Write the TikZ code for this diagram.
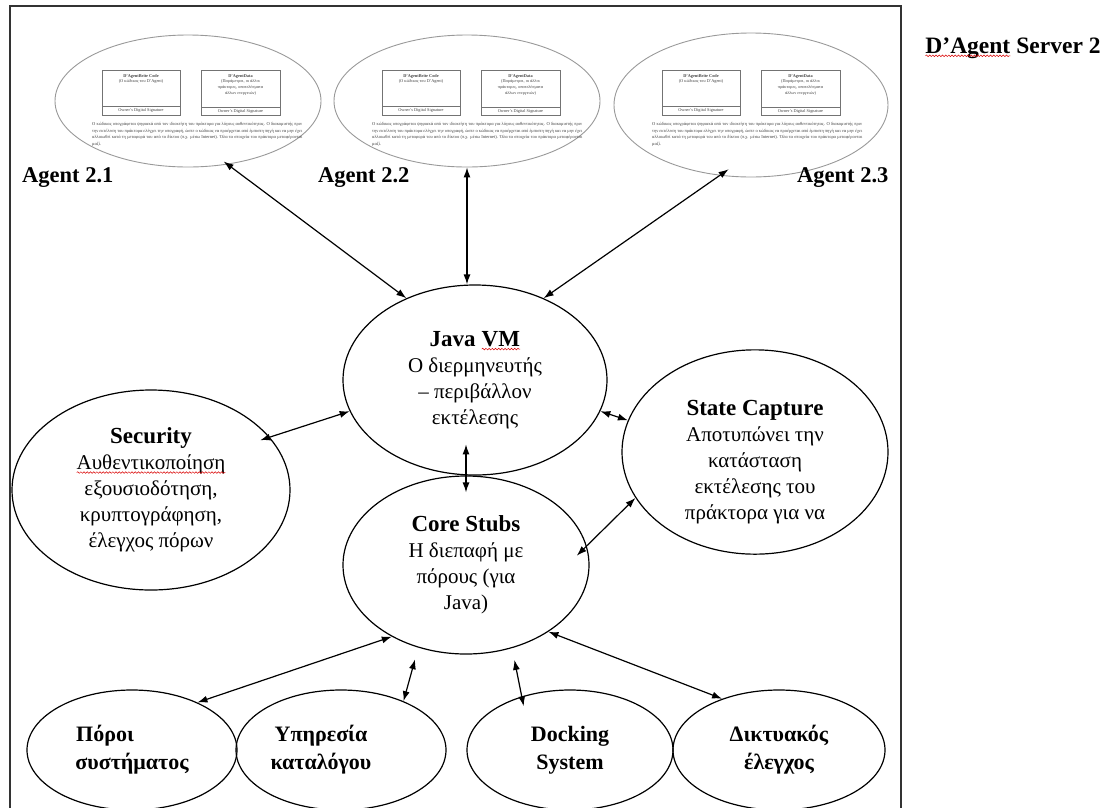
\documentclass[tikz,border=0pt]{standalone}
\usepackage{fontspec}
\setmainfont{Liberation Serif}
\usetikzlibrary{shapes.geometric,arrows.meta,calc,decorations.pathmorphing}

% red wavy spell-check line under a word
\newcommand\squig[1]{\tikz[baseline=(sqw.base),x=1pt,y=1pt]{%
  \node[rectangle,draw=none,fill=none,inner sep=0pt,outer sep=0pt,
        minimum width=0pt,minimum height=0pt,anchor=base,font={},text=black] (sqw) at (0,0) {#1};%
  \draw[draw=red!85!black,line width=0.5pt,decorate,
        decoration={snake,amplitude=0.8pt,segment length=3.2pt}]
    ([yshift=-2.8pt]sqw.base west) -- ([yshift=-2.8pt]sqw.base east);}}

\newcommand\ttl[1]{{\fontsize{23}{26}\selectfont\bfseries #1}}

% contents of one agent: two boxes and a short paragraph
\newcommand\agentcard[2]{%
  \begin{scope}[shift={#2}]
    \draw[cardbox] (0,0) rectangle (78,45);
    \draw[cardbox] (0,36) -- (78,36);
    \draw[cardbox] (99,0) rectangle (178,45);
    \draw[cardbox] (99,37) -- (178,37);
    \node[tinytext,anchor=north] (#1-code) at (39,4)
      {\textbf{D'AgentBrite Code}\\(Ο κώδικας του D'Agent)};
    \node[tinytext] (#1-codesig) at (39,40.5) {Owner's Digital Signature};
    \node[tinytext,anchor=north] (#1-data) at (138.5,4)
      {\textbf{D'AgentData}\\(Παράμετροι, οι άλλοι\\πράκτορες, αποτελέσματα\\άλλων ενεργειών)};
    \node[tinytext] (#1-datasig) at (138.5,41) {Owner's Digital Signature};
    \node[tinypara] (#1-text) at (-10,52)
      {Ο κώδικας υπογράφεται ψηφιακά από τον ιδιοκτήτη του πράκτορα για λόγους αυθεντικότητας. Ο
       διακομιστής πριν την εκτέλεση του πράκτορα ελέγχει την υπογραφή, ώστε ο κώδικας να προέρχεται
       από έμπιστη πηγή και να μην έχει αλλοιωθεί κατά τη μεταφορά του από το δίκτυο (π.χ. μέσω Internet).
       Όλα τα στοιχεία του πράκτορα μεταφέρονται μαζί.};
  \end{scope}}

\begin{document}
\begin{tikzpicture}[x=1pt,y=-1pt,
  bigell/.style={ellipse,draw=black,line width=1.2pt,inner sep=0pt,align=center,
                 font=\fontsize{21}{26}\selectfont},
  botell/.style={ellipse,draw=black,line width=1.2pt,inner sep=0pt,align=center,
                 font=\fontsize{22}{28}\selectfont\bfseries},
  agentell/.style={ellipse,draw=black!40,line width=0.9pt,inner sep=0pt},
  agentlbl/.style={font=\fontsize{22.5}{27}\selectfont\bfseries,anchor=base west,inner sep=0pt},
  cardbox/.style={draw=black!55,line width=0.5pt},
  tinytext/.style={font=\fontsize{4.3}{5.8}\selectfont,text=black!75,align=center,inner sep=0pt},
  tinypara/.style={font=\fontsize{4.5}{6.8}\selectfont,text=black!75,align=justify,
                   text width=210pt,anchor=north west,inner sep=0pt},
  link/.style={{Latex[length=10pt,width=7pt]}-{Latex[length=10pt,width=7pt]},line width=1.2pt},
  frame/.style={draw=black!80,line width=1.4pt}]

\useasboundingbox (0,0) rectangle (1109,807);

% server frame
\draw[frame] (10,830) -- (10,6) -- (901,6) -- (901,830);
\node[font=\fontsize{23.5}{28}\selectfont\bfseries,anchor=base west,inner sep=0pt]
  (server) at (925,53) {\squig{D'Agent} Server 2};

% mobile agents
\node[agentell,minimum width=266pt,minimum height=132pt] (a1) at (188,101) {};
\node[agentell,minimum width=266pt,minimum height=132pt] (a2) at (467,101) {};
\node[agentell,minimum width=274pt,minimum height=144pt] (a3) at (751,105) {};
\agentcard{c1}{(102,70)}
\agentcard{c2}{(382,70)}
\agentcard{c3}{(662,70)}
\node[agentlbl] (l1) at (22,182) {Agent 2.1};
\node[agentlbl] (l2) at (318,182) {Agent 2.2};
\node[agentlbl] (l3) at (797,182) {Agent 2.3};

% server components
\node[bigell,minimum width=264pt,minimum height=190pt] (jvm) at (475,380)
  {\ttl{Java \squig{VM}}\\Ο διερμηνευτής\\– περιβάλλον\\εκτέλεσης};
\node[bigell,minimum width=278pt,minimum height=200pt] (sec) at (151,490)
  {\ttl{Security}\\\squig{Αυθεντικοποίηση}\\εξουσιοδότηση,\\κρυπτογράφηση,\\έλεγχος πόρων};
\node[bigell,minimum width=266pt,minimum height=194pt] (sc) at (755,452)
  {\ttl{\rule{0pt}{36pt}State Capture}\\Αποτυπώνει την\\κατάσταση\\εκτέλεσης του\\πράκτορα για να};
\node[bigell,minimum width=246pt,minimum height=178pt] (cs) at (466,565)
  {\ttl{Core Stubs}\\Η διεπαφή με\\πόρους (για\\Java)};

\node[botell,minimum width=210pt,minimum height=120pt] (p1) at (132,750)
  {Πόροι\hspace*{54pt}\\συστήματος};
\node[botell,minimum width=210pt,minimum height=120pt] (p2) at (341,750)
  {Υπηρεσία\hspace*{40pt}\\καταλόγου\hspace*{40pt}};
\node[botell,minimum width=206pt,minimum height=120pt] (p3) at (570,750) {Docking\\System};
\node[botell,minimum width=212pt,minimum height=120pt] (p4) at (779,750) {Δικτυακός\\έλεγχος};

% connectors
\draw[link,shorten <=-5pt] (a1.-58.6) -- (jvm.130.4);
\draw[link] (a2.south) -- (a2.south |- jvm.north);
\draw[link,shorten <=-11pt] (a3.246.6) -- (jvm.50.5);
\draw[link,shorten <=-10pt] (sec.24.6) -- (jvm.194);
\draw[link] (jvm.-14.3) -- (sc.166.6);
\draw[link] ($(cs.north)+(0,-31)$) -- ($(cs.north)+(0,17)$);
\draw[link,shorten >=-14pt] (sc.201.8) -- (cs.9.1);
\draw[link] (cs.224.6) -- (p1.36.7);
\draw[link,shorten <=12pt] (cs.240.1) -- (p2.38.3);
\draw[link,shorten <=12pt,shorten >=-10pt] (cs.299.9) -- (p3.132.8);
\draw[link] (cs.-39) -- (p4.138.4);
\end{tikzpicture}
\end{document}
